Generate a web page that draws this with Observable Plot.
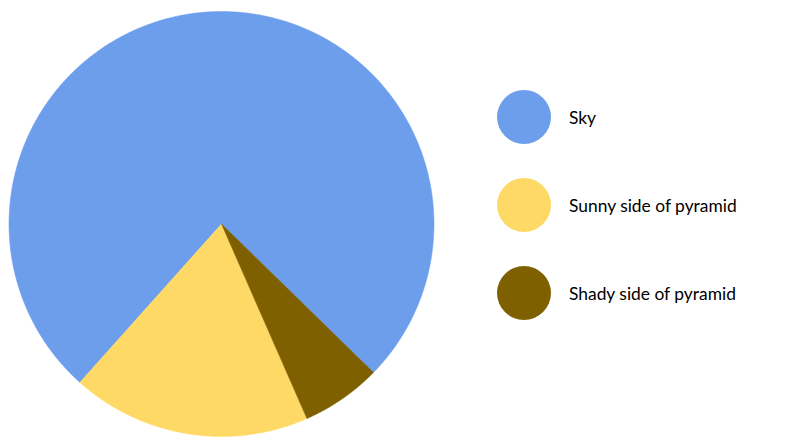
<!DOCTYPE html>
<html>
<head>
<meta charset="utf-8">
<script src="https://cdn.jsdelivr.net/npm/d3@7"></script>
<script src="https://cdn.jsdelivr.net/npm/@observablehq/plot@0.6"></script>
<style>
  html, body { margin: 0; padding: 0; background: #fff; }
  #wrap { position: relative; width: 794px; height: 447px; overflow: hidden; }
  #chart { position: absolute; left: 0; top: 0; }
  #legend { position: absolute; left: 497px; top: 90px; font-family: Lato, "Open Sans", sans-serif; font-size: 17.4px; color: #000; }
  .item { display: flex; align-items: center; height: 54px; margin-bottom: 34px; }
  .sw { width: 54px; height: 54px; border-radius: 50%; margin-right: 18px; flex: none; }
</style>
</head>
<body>
<div id="wrap">
  <div id="chart"></div>
  <div id="legend"></div>
</div>
<script>
const categories = ["Sky", "Sunny side of pyramid", "Shady side of pyramid"];
const shares = [75.7, 18.2, 6.1];
const colors = ["#6d9eeb", "#ffd966", "#7f6000"];

const color = {domain: categories, range: colors};

// pie layout (slices run counter-clockwise, Sky first)
const deg = Math.PI / 180;
const pie = d3.pie().sort(null).value(d => d.value)
  .startAngle(134.33 * deg).endAngle((134.33 - 360) * deg);
const arcs = pie(categories.map((c, i) => ({name: c, value: shares[i]})));

// outline of each slice as a closed polygon in unit-circle coordinates
const pts = [];
for (const a of arcs) {
  const name = a.data.name;
  pts.push({name, x: 0, y: 0});
  const n = Math.max(2, Math.ceil(Math.abs(a.endAngle - a.startAngle) / (0.25 * deg)));
  for (let k = 0; k <= n; k++) {
    const t = a.startAngle + (a.endAngle - a.startAngle) * k / n;
    pts.push({name, x: Math.sin(t), y: Math.cos(t)});
  }
  pts.push({name, x: 0, y: 0});
}

const chart = Plot.plot({
  width: 442,
  height: 447,
  marginLeft: 8.5,
  marginRight: 8.5,
  marginTop: 11,
  marginBottom: 11,
  x: {domain: [-1, 1], axis: null},
  y: {domain: [-1, 1], axis: null},
  color,
  marks: [
    Plot.line(pts, {x: "x", y: "y", z: "name", fill: "name", stroke: "name", strokeWidth: 0.5, curve: "linear"})
  ]
});
document.getElementById("chart").appendChild(chart);

const legend = d3.select("#legend");
categories.forEach((c, i) => {
  const it = legend.append("div").attr("class", "item");
  it.append("div").attr("class", "sw").style("background", colors[i]);
  it.append("span").text(c);
});
</script>
</body>
</html>
